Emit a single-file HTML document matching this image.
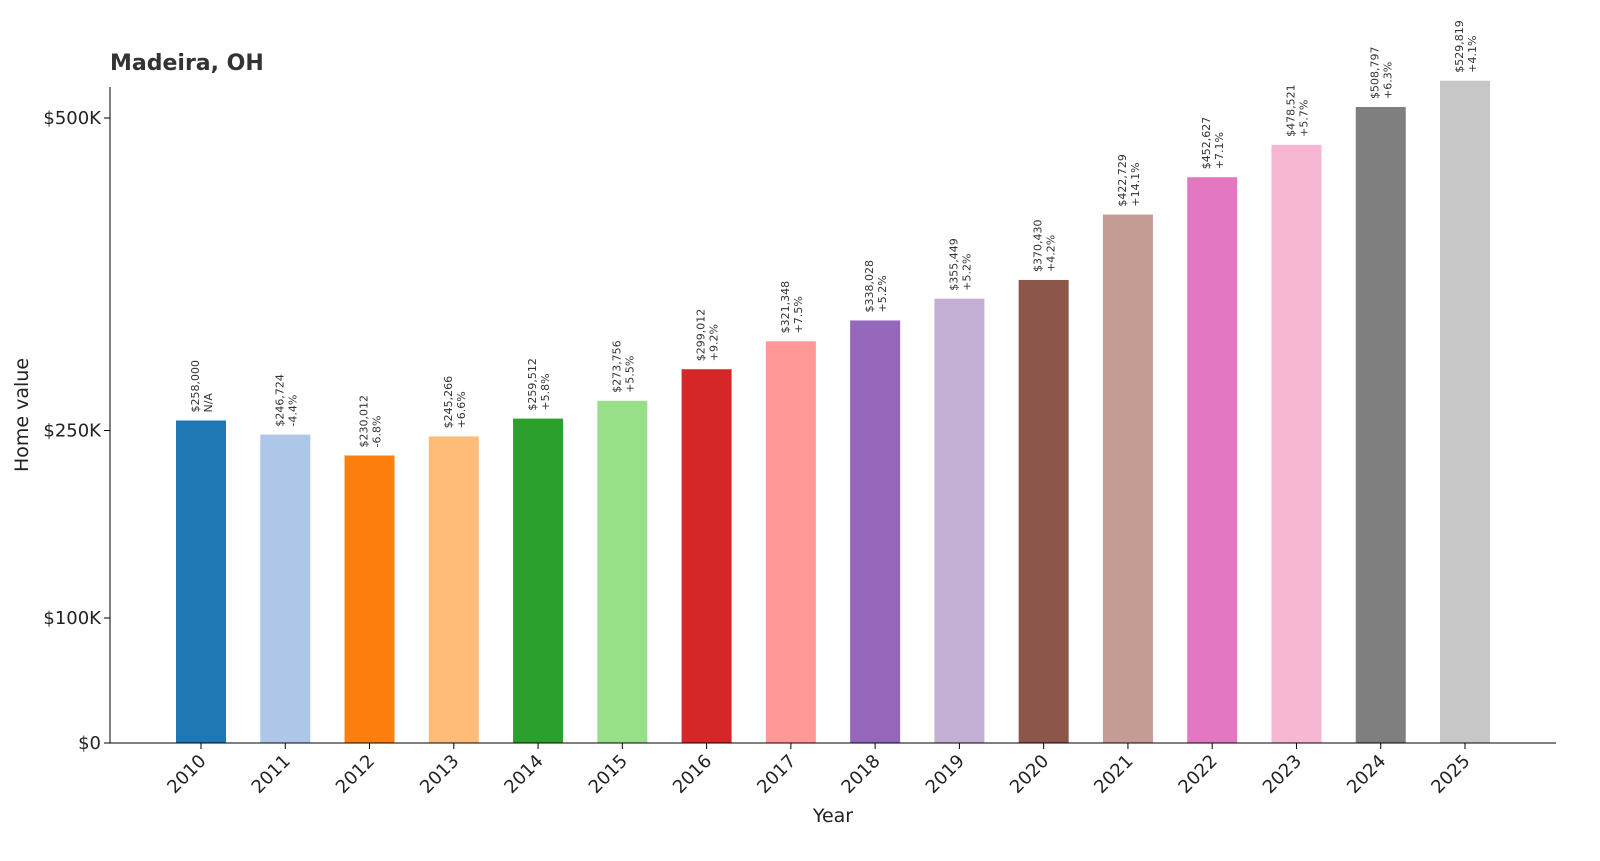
<!DOCTYPE html>
<html><head><meta charset="utf-8"><style>
body{margin:0;background:#fff;font-family:"Liberation Sans","DejaVu Sans",sans-serif}
</style></head><body>
<svg id="chart" width="1600" height="856" xmlns="http://www.w3.org/2000/svg" font-family="DejaVu Sans, Liberation Sans, sans-serif">
<text x="110" y="70" font-size="22" font-weight="bold" fill="#333">Madeira, OH</text>
<g id="bars"></g>
<g id="axes"></g>
<text transform="translate(28,415) rotate(-90)" text-anchor="middle" font-size="19" fill="#222">Home value</text>
<text x="833" y="822" text-anchor="middle" font-size="19" fill="#222">Year</text>
</svg>
<script>
const years=["2010","2011","2012","2013","2014","2015","2016","2017","2018","2019","2020","2021","2022","2023","2024","2025"];
const values=[258000,246724,230012,245266,259512,273756,299012,321348,338028,355449,370430,422729,452627,478521,508797,529819];
const changes=["N/A","-4.4%","-6.8%","+6.6%","+5.8%","+5.5%","+9.2%","+7.5%","+5.2%","+5.2%","+4.2%","+14.1%","+7.1%","+5.7%","+6.3%","+4.1%"];
const colors=["#1f77b4","#aec7e8","#ff7f0e","#ffbb78","#2ca02c","#98df8a","#d62728","#ff9896","#9467bd","#c5b0d5","#8c564b","#c49c94","#e377c2","#f7b6d2","#7f7f7f","#c7c7c7"];
const yTicks=[0,100000,250000,500000];
const yTickLabels=["$0","$100K","$250K","$500K"];
const NS="http://www.w3.org/2000/svg";
const y=v=>743-v*0.00125;
const x=i=>201+i*(1465-201)/15;
function mk(t,a,p){const e=document.createElementNS(NS,t);for(const k in a)e.setAttribute(k,a[k]);p.appendChild(e);return e;}
const bars=document.getElementById('bars'),axes=document.getElementById('axes');
values.forEach((v,i)=>{
 const r=mk('rect',{x:x(i)-25,y:y(v),width:50,height:743-y(v),fill:colors[i]},bars);
 
 
 const top=y(v)-8;
 const t1=mk('text',{transform:`translate(${x(i)-2},${top}) rotate(-90)`,'font-size':11,fill:'#333'},bars);
 t1.textContent='$'+v.toLocaleString('en-US');
 
 
 const t2=mk('text',{transform:`translate(${x(i)+11},${top}) rotate(-90)`,'font-size':11,fill:'#333'},bars);
 t2.textContent=changes[i];
 
 
 mk('line',{x1:x(i),x2:x(i),y1:743,y2:749,stroke:'#000'},axes);
 const xl=mk('text',{transform:`translate(${x(i)+6},${762}) rotate(-45)`,'text-anchor':'end','font-size':18,fill:'#222'},axes);
 xl.textContent=years[i];
 
 
});
yTicks.forEach((v,i)=>{
 mk('line',{x1:104,x2:110,y1:y(v),y2:y(v),stroke:'#000'},axes);
 const t=mk('text',{x:101,y:y(v)+6,'text-anchor':'end','font-size':18,fill:'#222'},axes);
 t.textContent=yTickLabels[i];
 
 
});
const l1=mk('line',{x1:110,x2:110,y1:87,y2:743,stroke:'#000'},axes);


const l2=mk('line',{x1:110,x2:1556,y1:743,y2:743,stroke:'#000'},axes);


</script>
</body></html>
